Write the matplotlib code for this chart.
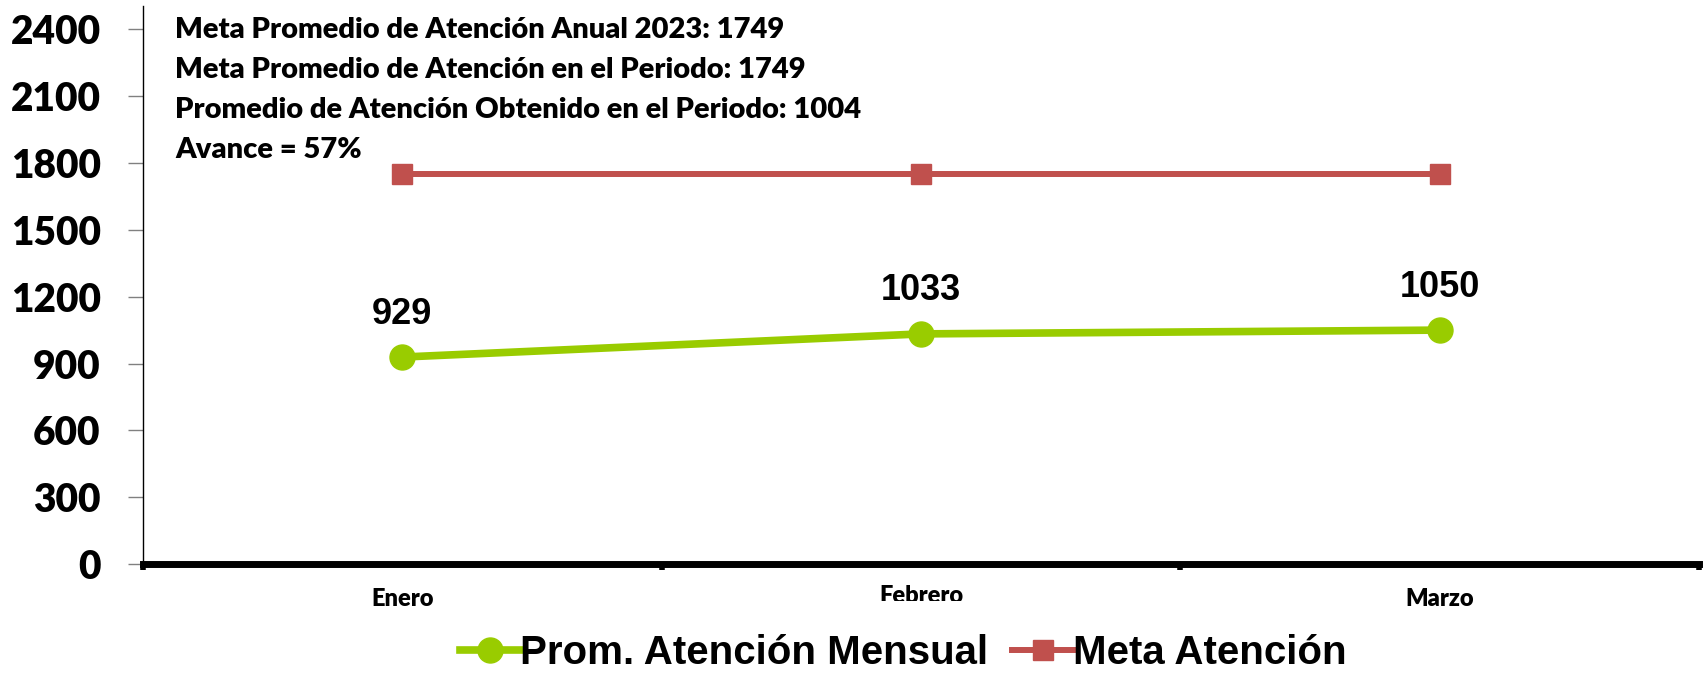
import matplotlib
matplotlib.use("Agg")
import matplotlib.pyplot as plt
from matplotlib.transforms import Bbox, TransformedBbox, IdentityTransform
from matplotlib.lines import Line2D

# Monthly attention data
meses = ["Enero", "Febrero", "Marzo"]
prom_mensual = [929, 1033, 1050]
meta_atencion = [1749, 1749, 1749]
y_ticks = [0, 300, 600, 900, 1200, 1500, 1800, 2100, 2400]
notas = [
    "Meta Promedio de Atención Anual 2023: 1749",
    "Meta Promedio de Atención en el Periodo: 1749",
    "Promedio de Atención Obtenido en el Periodo: 1004",
    "Avance = 57%",
]

VERDE = "#99CC00"
ROJO = "#C0504D"
CAL = "Lato"

W, H = 1704, 673
fig = plt.figure(figsize=(W / 100, H / 100), dpi=100)
ax = fig.add_axes([143 / W, 1 - 564 / H, (1699 - 143) / W, (564 - 6) / H])

x = list(range(len(meses)))
ax.plot(x, meta_atencion, color=ROJO, lw=4.3, marker="s", ms=14,
        markerfacecolor=ROJO, markeredgecolor=ROJO, zorder=3)
ax.plot(x, prom_mensual, color=VERDE, lw=5.5, marker="o", ms=18,
        markerfacecolor=VERDE, markeredgecolor=VERDE, zorder=4)

for xi, v in zip(x, prom_mensual):
    ax.annotate(str(v), (xi, v), xytext=(0, 31), textcoords="offset points",
                ha="center", va="center", fontsize=26, fontweight="bold",
                family="Liberation Sans")

ax.set_xlim(-0.5, len(meses) - 0.5)
ax.set_ylim(0, 2505)

# y axis
ax.set_yticks(y_ticks)
ax.set_yticklabels([str(t) for t in y_ticks], fontsize=28, fontweight="heavy",
                   family=CAL)
ax.tick_params(axis="y", direction="out", length=10.5, width=1, color="#808080",
               pad=20)

# x axis: ticks at category boundaries
ax.set_xticks([-0.5, 0.5, 1.5, 2.5])
ax.set_xticklabels([])
ax.tick_params(axis="x", direction="out", length=4, width=4, color="black")

for spine in ["top", "right"]:
    ax.spines[spine].set_visible(False)
ax.spines["left"].set_linewidth(1)
ax.spines["bottom"].set_linewidth(5)
ax.spines["bottom"].set_zorder(5)

# category labels; the middle one is cut off at the bottom
for xi, mes in zip(x, meses):
    dy = -3 if mes == "Febrero" else 0
    t = ax.annotate(mes, (xi, 0), xycoords=("data", "axes fraction"),
                    xytext=(0, -(35 + dy) * 0.72), textcoords="offset points",
                    ha="center", va="center", fontsize=17, fontweight="heavy",
                    family=CAL, annotation_clip=False)
    if mes == "Febrero":
        t.set_clip_box(TransformedBbox(Bbox([[0, H - 601], [W, H]]),
                                       IdentityTransform()))
        t.set_clip_on(True)

# notes in the upper left
for i, nota in enumerate(notas):
    fig.text(175 / W, 1 - (30 + 40 * i) / H, nota, ha="left", va="center",
             fontsize=21, fontweight="heavy", family=CAL)

handles = [
    Line2D([], [], color=VERDE, lw=5.5, marker="o", ms=18),
    Line2D([], [], color=ROJO, lw=4.3, marker="s", ms=14),
]
fig.legend(handles, ["Prom. Atención Mensual", "Meta Atención"], loc="center",
           bbox_to_anchor=(903 / W, 1 - 653 / H), ncol=2, frameon=False,
           prop={"family": "Liberation Sans", "weight": "bold", "size": 29},
           handlelength=1.5, handletextpad=0.0, columnspacing=0.6,
           borderpad=0)

fig.savefig("out.png", dpi=100)
